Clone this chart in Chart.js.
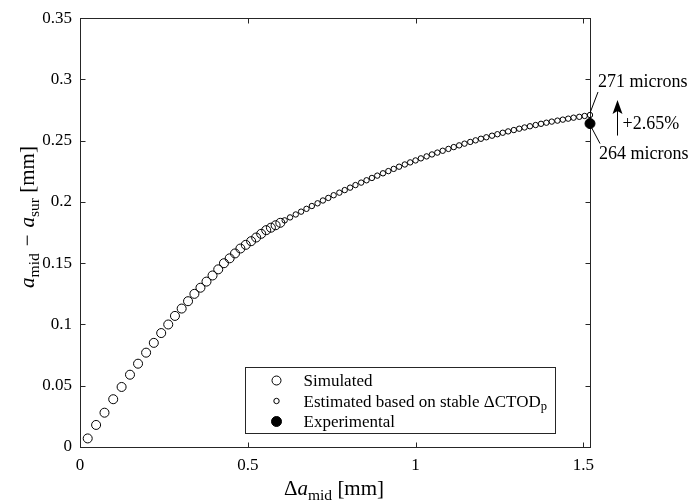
<!DOCTYPE html>
<html lang="en">
<head>
<meta charset="UTF-8">
<title>Crack depth difference vs crack growth</title>
<script src="https://cdn.jsdelivr.net/npm/chart.js"></script>
<style>
  body { margin: 0; background: #fff; }
  #wrap { width: 700px; height: 504px; }
</style>
</head>
<body>
<div id="wrap"><canvas id="chart" width="700" height="504"></canvas></div>
<script>
// simulated points (large open circles)
const simX = [0.023, 0.048, 0.073, 0.099, 0.124, 0.149, 0.173, 0.197, 0.220, 0.242,
              0.263, 0.283, 0.303, 0.322, 0.341, 0.359, 0.377, 0.395, 0.412, 0.429,
              0.446, 0.462, 0.478, 0.494, 0.510, 0.525, 0.540, 0.555, 0.569, 0.583, 0.597];
const simY = [0.007, 0.018, 0.028, 0.039, 0.049, 0.059, 0.068, 0.077, 0.085, 0.093,
              0.100, 0.107, 0.113, 0.119, 0.125, 0.130, 0.135, 0.140, 0.145, 0.150,
              0.154, 0.158, 0.162, 0.165, 0.168, 0.171, 0.174, 0.177, 0.179, 0.181, 0.183];

// estimated from stable dCTODp (small open circles)
const estX = [0.610, 0.626, 0.643, 0.659, 0.675, 0.691, 0.708, 0.724, 0.740, 0.756,
              0.773, 0.789, 0.805, 0.821, 0.838, 0.854, 0.870, 0.886, 0.903, 0.919,
              0.935, 0.951, 0.968, 0.984, 1.000, 1.016, 1.033, 1.049, 1.065, 1.081,
              1.098, 1.114, 1.130, 1.146, 1.163, 1.179, 1.195, 1.211, 1.228, 1.244,
              1.260, 1.276, 1.293, 1.309, 1.325, 1.341, 1.358, 1.374, 1.390, 1.406,
              1.423, 1.439, 1.455, 1.471, 1.488, 1.504, 1.520];
const estY = [0.1850, 0.1874, 0.1898, 0.1921, 0.1944, 0.1967, 0.1989, 0.2012, 0.2033, 0.2055,
              0.2076, 0.2097, 0.2117, 0.2138, 0.2158, 0.2177, 0.2196, 0.2215, 0.2234, 0.2252,
              0.2270, 0.2288, 0.2306, 0.2323, 0.2339, 0.2356, 0.2372, 0.2388, 0.2403, 0.2418,
              0.2433, 0.2448, 0.2462, 0.2476, 0.2490, 0.2503, 0.2516, 0.2528, 0.2541, 0.2553,
              0.2565, 0.2576, 0.2587, 0.2598, 0.2608, 0.2618, 0.2628, 0.2638, 0.2647, 0.2656,
              0.2664, 0.2672, 0.2680, 0.2688, 0.2695, 0.2702, 0.2710];

// experimental
const expX = [1.52];
const expY = [0.264];

const xTicks = [0, 0.5, 1, 1.5];
const yTicks = [0, 0.05, 0.1, 0.15, 0.2, 0.25, 0.3, 0.35];

const noteTop = '271 microns';
const noteBottom = '264 microns';
const noteChange = '+2.65%';

const serif = '"Liberation Serif", "DejaVu Serif", serif';
const ink = '#262626';

function pts(xs, ys) {
  return xs.map((x, i) => ({ x: x, y: ys[i] }));
}

// text made of pieces: {t, it: italic, sub: subscript}
function richWidth(ctx, parts, size) {
  let w = 0;
  parts.forEach(p => {
    const s = p.sub ? size * 0.74 : size;
    ctx.font = (p.it ? 'italic ' : '') + s + 'px ' + serif;
    w += ctx.measureText(p.t).width;
  });
  return w;
}

function drawRich(ctx, parts, x, y, size) {
  ctx.textBaseline = 'alphabetic';
  ctx.textAlign = 'left';
  parts.forEach(p => {
    const s = p.sub ? size * 0.74 : size;
    ctx.font = (p.it ? 'italic ' : '') + s + 'px ' + serif;
    ctx.fillText(p.t, x, p.sub ? y + size * 0.22 : y);
    x += ctx.measureText(p.t).width;
  });
}

const xTitle = [{ t: 'Δ' }, { t: 'a', it: true }, { t: 'mid', sub: true }, { t: ' [mm]' }];
const yTitle = [{ t: 'a', it: true }, { t: 'mid', sub: true }, { t: '\u2004−\u2004' },
                { t: 'a', it: true }, { t: 'sur', sub: true }, { t: ' [mm]' }];
const legendRows = [
  [{ t: 'Simulated' }],
  [{ t: 'Estimated based on stable ΔCTOD' }, { t: 'p', sub: true }],
  [{ t: 'Experimental' }]
];

function marker(ctx, x, y, r, filled) {
  ctx.beginPath();
  ctx.arc(x, y, r, 0, Math.PI * 2);
  if (filled) { ctx.fillStyle = '#000'; ctx.fill(); }
  ctx.strokeStyle = '#000';
  ctx.lineWidth = 1;
  ctx.stroke();
}

const frame = {
  id: 'frame',
  beforeDatasetsDraw(chart) {
    const ctx = chart.ctx, a = chart.chartArea;
    const xs = chart.scales.x, ys = chart.scales.y;
    const L = Math.round(a.left) + 0.5, R = Math.round(a.right) + 0.5;
    const T = Math.round(a.top) + 0.5, B = Math.round(a.bottom) + 0.5;
    ctx.save();
    ctx.strokeStyle = ink;
    ctx.lineWidth = 1;
    ctx.strokeRect(L, T, R - L, B - T);
    ctx.beginPath();
    xTicks.forEach(v => {
      const px = Math.round(xs.getPixelForValue(v)) + 0.5;
      ctx.moveTo(px, B); ctx.lineTo(px, B - 5);
      ctx.moveTo(px, T); ctx.lineTo(px, T + 5);
    });
    yTicks.forEach(v => {
      const py = Math.round(ys.getPixelForValue(v)) + 0.5;
      ctx.moveTo(L, py); ctx.lineTo(L + 5, py);
      ctx.moveTo(R, py); ctx.lineTo(R - 5, py);
    });
    ctx.stroke();
    ctx.restore();
  },
  afterDraw(chart) {
    const ctx = chart.ctx, a = chart.chartArea;
    const xs = chart.scales.x, ys = chart.scales.y;
    ctx.save();
    ctx.fillStyle = '#000';

    // axis titles
    const tSize = 21;
    const wx = richWidth(ctx, xTitle, tSize);
    drawRich(ctx, xTitle, 334 - wx / 2, 495, tSize);
    const wy = richWidth(ctx, yTitle, tSize);
    ctx.save();
    ctx.translate(34, 217);
    ctx.rotate(-Math.PI / 2);
    ctx.fillStyle = '#000';
    drawRich(ctx, yTitle, -wy / 2, 0, tSize);
    ctx.restore();

    // legend box
    const bw = 310, bh = 66;
    const bx = Math.round(a.right - 35 - bw) + 0.5;
    const by = Math.round(a.bottom - 14 - bh) + 0.5;
    ctx.fillStyle = '#fff';
    ctx.fillRect(bx, by, bw, bh);
    ctx.strokeStyle = ink;
    ctx.lineWidth = 1;
    ctx.strokeRect(bx, by, bw, bh);
    const rowY = [13, 33.5, 54];
    const radii = [4.5, 2.7, 5];
    rowY.forEach((ry, i) => {
      marker(ctx, bx + 31, by + ry, radii[i], i === 2);
      ctx.fillStyle = '#000';
      drawRich(ctx, legendRows[i], bx + 58, by + ry + 5.5, 17);
    });

    // notes at the right end
    const px = xs.getPixelForValue(estX[estX.length - 1]);
    const py = ys.getPixelForValue(estY[estY.length - 1]);
    const ex = xs.getPixelForValue(expX[0]);
    const ey = ys.getPixelForValue(expY[0]);
    ctx.strokeStyle = '#000';
    ctx.lineWidth = 1;
    ctx.beginPath();
    ctx.moveTo(px, py - 2); ctx.lineTo(px + 8, py - 23);
    ctx.moveTo(ex + 1, ey + 3); ctx.lineTo(ex + 10, ey + 20);
    ctx.stroke();
    ctx.fillStyle = '#000';
    ctx.font = '18px ' + serif;
    ctx.textAlign = 'left';
    ctx.textBaseline = 'alphabetic';
    ctx.fillText(noteTop, px + 8, py - 28);
    ctx.fillText(noteBottom, ex + 9, ey + 35);

    // arrow
    const ax = Math.round(ex + 27) + 0.5;
    const tip = py - 15, tail = ey + 12;
    ctx.beginPath();
    ctx.moveTo(ax, tail); ctx.lineTo(ax, tip + 8);
    ctx.stroke();
    ctx.beginPath();
    ctx.moveTo(ax, tip);
    ctx.lineTo(ax + 5, tip + 14);
    ctx.lineTo(ax, tip + 11);
    ctx.lineTo(ax - 5, tip + 14);
    ctx.closePath();
    ctx.fill();
    ctx.fillText(noteChange, ax + 5, ey + 5);
    ctx.restore();
  }
};

new Chart(document.getElementById('chart'), {
  type: 'scatter',
  data: {
    datasets: [
      { label: 'Simulated', data: pts(simX, simY), pointRadius: 4.5, pointBorderWidth: 1,
        pointBackgroundColor: 'rgba(0,0,0,0)', pointBorderColor: '#000', clip: false },
      { label: 'Estimated', data: pts(estX, estY), pointRadius: 2.7, pointBorderWidth: 1,
        pointBackgroundColor: 'rgba(0,0,0,0)', pointBorderColor: '#000', clip: false },
      { label: 'Experimental', data: pts(expX, expY), pointRadius: 5, pointBorderWidth: 1,
        pointBackgroundColor: '#000', pointBorderColor: '#000', clip: false }
    ]
  },
  options: {
    responsive: false,
    animation: false,
    layout: { padding: { left: 0, top: 18, right: 110, bottom: 0 } },
    plugins: { legend: { display: false }, tooltip: { enabled: false } },
    scales: {
      x: {
        type: 'linear', min: 0, max: 1.52,
        afterBuildTicks: s => { s.ticks = xTicks.map(v => ({ value: v })); },
        afterFit: s => { s.height = 57; },
        grid: { display: false, drawTicks: false },
        border: { display: false },
        ticks: { padding: 8, color: '#000', maxRotation: 0,
                 font: { family: serif, size: 17 }, callback: v => String(v) }
      },
      y: {
        type: 'linear', min: 0, max: 0.35,
        afterBuildTicks: s => { s.ticks = yTicks.map(v => ({ value: v })); },
        afterFit: s => { s.width = 80; },
        grid: { display: false, drawTicks: false },
        border: { display: false },
        ticks: { padding: 8, color: '#000',
                 font: { family: serif, size: 17 }, callback: v => String(+v.toFixed(2)) }
      }
    }
  },
  plugins: [frame]
});
</script>
</body>
</html>
